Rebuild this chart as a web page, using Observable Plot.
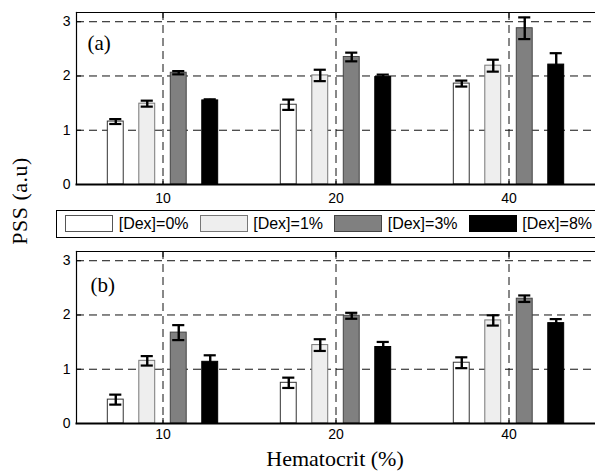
<!DOCTYPE html>
<html>
<head>
<meta charset="utf-8">
<script src="https://cdn.jsdelivr.net/npm/d3@7"></script>
<script src="https://cdn.jsdelivr.net/npm/@observablehq/plot@0.6"></script>
<style>
  body { margin:0; width:595px; height:473px; overflow:hidden; position:relative; background:#fff; }
  .panel { position:absolute; left:0; }
  #legend { position:absolute; left:56px; top:210px; width:560px; height:26px; border:1.5px solid #000; background:#fff; z-index:2; }
  .patch { position:absolute; top:3.5px; width:46px; height:15px; border:1px solid #444; }
  .ltext { position:absolute; top:2px; font-family:"Liberation Sans", Arial, sans-serif; font-size:16px; line-height:22px; color:#000; white-space:nowrap; }
  .axlabel { position:absolute; font-family:"Liberation Serif", "Times New Roman", serif; font-size:22px; line-height:22px; color:#000; white-space:nowrap; }
</style>
</head>
<body>
<div id="a" class="panel" style="top:0px"></div>
<div id="legend"></div>
<div id="b" class="panel" style="top:239px"></div>
<div id="ylab" class="axlabel" style="left:20px; top:201px; letter-spacing:0.5px; transform:translate(-50%,-50%) rotate(-90deg);">PSS (a.u)</div>
<div id="xlab" class="axlabel" style="left:335px; top:448px; transform:translateX(-50%);">Hematocrit (%)</div>
<script>
// ---- data ----
const hematocrit = ["10", "20", "40"];
const series = ["[Dex]=0%", "[Dex]=1%", "[Dex]=3%", "[Dex]=8%"];
const fills = ["#ffffff", "#eeeeee", "#808080", "#000000"];
const edges = ["#333333", "#777777", "#444444", "#000000"];
const yTicks = [0, 1, 2, 3];
const yTickLabels = ["0", "1", "2", "3"];

// Panel (a)
const a_dex0 = [1.16, 1.47, 1.86];
const a_dex1 = [1.49, 2.01, 2.19];
const a_dex3 = [2.06, 2.35, 2.88];
const a_dex8 = [1.55, 1.98, 2.21];
const a_err0 = [0.045, 0.095, 0.055];
const a_err1 = [0.055, 0.105, 0.11];
const a_err3 = [0.03, 0.08, 0.2];
const a_err8 = [0.02, 0.045, 0.21];

// Panel (b)
const b_dex0 = [0.44, 0.75, 1.12];
const b_dex1 = [1.155, 1.445, 1.90];
const b_dex3 = [1.675, 1.985, 2.30];
const b_dex8 = [1.137, 1.41, 1.85];
const b_err0 = [0.092, 0.095, 0.10];
const b_err1 = [0.087, 0.108, 0.095];
const b_err3 = [0.138, 0.055, 0.06];
const b_err8 = [0.12, 0.093, 0.074];

// ---- build tables ----
function table(vals, errs) {
  const rows = [];
  vals.forEach((arr, s) => arr.forEach((v, g) => rows.push({g: g + 1, s, v, e: errs[s][g]})));
  return rows;
}
const dataA = table([a_dex0, a_dex1, a_dex3, a_dex8], [a_err0, a_err1, a_err3, a_err8]);
const dataB = table([b_dex0, b_dex1, b_dex3, b_dex8], [b_err0, b_err1, b_err3, b_err8]);

const step = 0.182, halfW = 0.046, capHalf = 0.035;
const cx = d => d.g + (d.s - 1.5) * step;

function panel(rows, label, labelDx, labelDy, tickPad) {
  return Plot.plot({
    width: 595, height: 210,
    marginLeft: 76, marginRight: 0, marginTop: 12, marginBottom: 26,
    x: {domain: [0.5, 3.5]},
    y: {domain: [0, 3.17]},
    color: {type: "identity"},
    style: {fontFamily: "'Liberation Sans', Arial, sans-serif", fontSize: "14px", color: "#000", background: "transparent"},
    marks: [
      Plot.gridY([1, 2, 3], {stroke: "#111", strokeOpacity: 1, strokeDasharray: "8,5"}),
      Plot.gridX([1, 2, 3], {stroke: "#111", strokeOpacity: 1, strokeDasharray: "8,5"}),
      Plot.rect(rows, {
        x1: d => cx(d) - halfW, x2: d => cx(d) + halfW,
        y1: 0, y2: "v",
        fill: d => fills[d.s], stroke: d => edges[d.s], strokeWidth: 1
      }),
      Plot.ruleX(rows, {x: cx, y1: d => d.v - d.e, y2: d => d.v + d.e, stroke: "#000", strokeWidth: 2.4}),
      Plot.ruleY(rows, {y: d => d.v + d.e, x1: d => cx(d) - capHalf, x2: d => cx(d) + capHalf, stroke: "#000", strokeWidth: 2.2}),
      Plot.ruleY(rows, {y: d => d.v - d.e, x1: d => cx(d) - capHalf, x2: d => cx(d) + capHalf, stroke: "#000", strokeWidth: 2.2}),
      Plot.axisY(yTicks, {tickSize: 0, tickPadding: 6, label: null, fill: "#000", tickFormat: v => yTickLabels[yTicks.indexOf(v)]}),
      Plot.axisY(yTicks, {tickSize: -5, fill: "none", label: null, stroke: "#000"}),
      Plot.axisX([1, 2, 3], {tickSize: 0, tickPadding: tickPad, label: null, fill: "#000", tickFormat: i => hematocrit[i - 1]}),
      Plot.axisX([1, 2, 3], {anchor: "bottom", tickSize: -5, fill: "none", label: null, stroke: "#000"}),
      Plot.axisX([1, 2, 3], {anchor: "top", tickSize: -5, fill: "none", label: null, stroke: "#000"}),
      Plot.frame({anchor: "top", stroke: "#000", strokeWidth: 1.2}),
      Plot.frame({anchor: "left", stroke: "#000", strokeWidth: 1.2}),
      Plot.frame({anchor: "bottom", stroke: "#000", strokeWidth: 2}),
      Plot.text([label], {text: d => d, frameAnchor: "top-left", dx: labelDx, dy: labelDy, textAnchor: "start", lineAnchor: "middle",
        fontFamily: "'Liberation Serif', 'Times New Roman', serif", fontSize: 21, fill: "#000"})
    ]
  });
}

document.getElementById("a").appendChild(panel(dataA, "(a)", 11, 31, 9));
document.getElementById("b").appendChild(panel(dataB, "(b)", 14, 34, 6));

// ---- legend ----
const legend = document.getElementById("legend");
series.forEach((name, i) => {
  const p = document.createElement("div");
  p.className = "patch";
  p.style.left = (8.2 + i * 134.5) + "px";
  p.style.background = fills[i];
  p.style.borderColor = i === 0 ? "#555" : edges[i];
  legend.appendChild(p);
  const t = document.createElement("div");
  t.className = "ltext";
  t.style.left = (8.2 + i * 134.5 + 53.5) + "px";
  t.textContent = name;
  legend.appendChild(t);
});
</script>
</body>
</html>
